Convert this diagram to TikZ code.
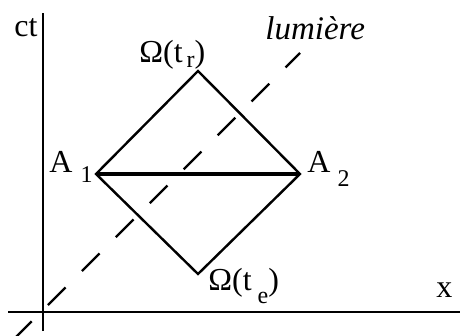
\documentclass[tikz,border=0pt]{standalone}
\usepackage{fontspec}
\setmainfont{Liberation Serif}
\usetikzlibrary{positioning}
\newcommand{\lowsub}[2]{\raisebox{-#1}{\fontsize{12}{13}\selectfont #2}}
\tikzset{
  axe/.style={line width=1.4pt},
  cone/.style={line width=1.2pt},
  corde/.style={line width=2.4pt},
  lumiere/.style={line width=1.2pt, dash pattern=on 12.5pt off 11.5pt},
  etiq/.style={inner sep=0pt, font=\fontsize{16}{18}\selectfont},
}

\begin{document}
\begin{tikzpicture}[x=0.5pt, y=-0.5pt, line join=miter]
        \useasboundingbox (0,0) rectangle (460,336);
        \coordinate (ybas) at (43,331);
        \coordinate (yhaut) at (43,13);
        \coordinate (xgauche) at (8,312);
        \coordinate (xdroite) at (460,312);
        \coordinate (lbas) at (14,339);
        \coordinate (lhaut) at (300,53);
        \coordinate (Otr) at (198,71);
        \coordinate (A1) at (96,174);
        \coordinate (A2) at (300,174);
        \coordinate (Ote) at (198,274);
        \draw[axe] (ybas) -- (yhaut);
        \draw[axe] (xgauche) -- (xdroite);
        \draw[lumiere] (lbas) -- (lhaut);
        \draw[cone] (A1) -- (Otr) -- (A2) -- (Ote) -- cycle;
        \draw[corde] (A1) -- (A2);
        \node[etiq, anchor=base west] (ct) at (14,37) {ct};
        \node[etiq, anchor=base west] (x) at (436,297) {x};
        \node[etiq, anchor=base west, font=\fontsize{16.5}{18}\selectfont\itshape] (lum) at (265,40) {lumière};
        \node[etiq, anchor=base west] (lOtr) at (139,63) {Ω(t\hspace{2pt}\lowsub{2.5pt}{r})};
        \node[etiq, anchor=base west] (lOte) at (208,290) {Ω(t\hspace{3pt}\lowsub{6.5pt}{e})};
        \node[etiq, anchor=base west] (lA1) at (49,173) {A\hspace{4pt}\lowsub{5pt}{1}};
        \node[etiq, anchor=base west] (lA2) at (307,173) {A\hspace{3.5pt}\lowsub{7pt}{2}};
    \end{tikzpicture}
\end{document}
